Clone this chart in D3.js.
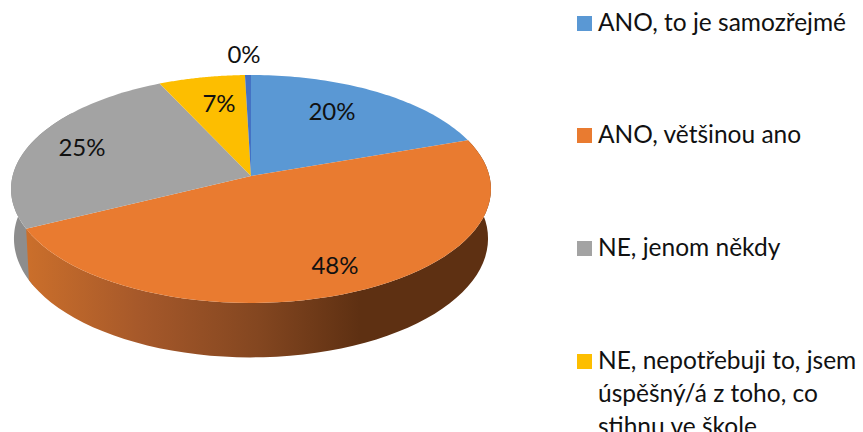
<!DOCTYPE html>
<html><head><meta charset="utf-8">
<script src="https://cdn.jsdelivr.net/npm/d3@7"></script>
<style>html,body{margin:0;padding:0;background:#fff}svg{display:block}text{font-family:Lato,"Open Sans",sans-serif;fill:#111}</style>
</head><body><div id="c"></div>
<script>
const categories = ["ANO, to je samozřejmé","ANO, většinou ano","NE, jenom někdy","NE, nepotřebuji to, jsem úspěšný/á z toho, co stihnu ve škole","Jiné"];
const values = [19.65,48.0,25.4,6.5,0.45];
const pctLabels = ["20%","48%","25%","7%","0%"];
const colors = ["#5a98d4","#e97b30","#a3a3a3","#fdbe00","#4472c4"];
const legendLines = [["ANO, to je samozřejmé"],["ANO, většinou ano"],["NE, jenom někdy"],["NE, nepotřebuji to, jsem","úspěšný/á z toho, co","stihnu ve škole"]];

const W=863,H=432;
const svg=d3.select("#c").append("svg").attr("width",W).attr("height",H);
const arcs=d3.pie().value(d=>d).sort(null)(values);

// perspective tilt of a disc
const k=0.114;
function proj(t,o){const u=Math.sin(t),v=Math.cos(t),d=1+k*v;
  return [251+o.R*u/d, o.y0-o.a*v/d];}
const TOP={R:238.4,y0:176,a:112.5}, BOT={R:235.5,y0:225,a:117.3};
const samples=(a,b)=>d3.range(0,61).map(i=>a+(b-a)*i/60);
const line=d3.line();

const defs=svg.append("defs");
const g=defs.append("linearGradient").attr("id","wall").attr("gradientUnits","userSpaceOnUse")
  .attr("x1",26).attr("x2",360).attr("y1",0).attr("y2",0);
[[0,"#cb6f2b"],[.35,"#a5582a"],[.7,"#834620"],[1,"#5e3012"]].forEach(s=>g.append("stop").attr("offset",s[0]).attr("stop-color",s[1]));

const wall=(a,b)=>{const s=samples(a,b);return line(s.map(t=>proj(t,TOP)).concat(s.slice().reverse().map(t=>proj(t,BOT))))+"Z";};
// gray wall, then orange wall
svg.append("path").attr("d",wall(arcs[1].endAngle-0.05,arcs[1].endAngle+1.1)).attr("fill","#8d8d8d");
svg.append("path").attr("d",wall(arcs[1].startAngle,arcs[1].endAngle)).attr("fill","url(#wall)");

// top face
svg.selectAll("path.s").data(arcs).join("path").attr("class","s")
  .attr("d",d=>line([[251,176]].concat(samples(d.startAngle,d.endAngle).map(t=>proj(t,TOP))))+"Z")
  .attr("fill",(d,i)=>colors[i]);

// data labels
const lx=[332,335,82,219,244], ly=[120,274,156,112,63];
svg.selectAll("text.p").data(pctLabels).join("text").attr("class","p")
  .attr("x",(d,i)=>lx[i]).attr("y",(d,i)=>ly[i]).attr("text-anchor","middle")
  .attr("font-size",24).text(d=>d);

// legend
const ty=[31,143,256,369];
legendLines.forEach((ls,i)=>{
  svg.append("rect").attr("x",577).attr("y",ty[i]-15).attr("width",15).attr("height",15).attr("fill",colors[i]);
  ls.forEach((l,j)=>svg.append("text").attr("x",598).attr("y",ty[i]+j*33).attr("font-size",24.5).text(l));
});
</script></body></html>
